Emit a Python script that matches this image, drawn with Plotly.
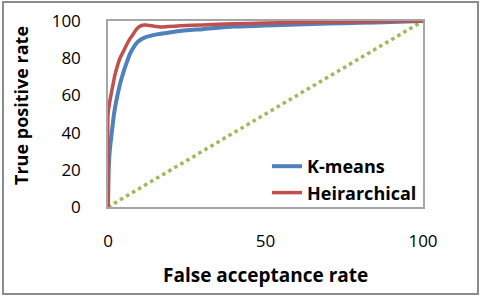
import plotly.graph_objects as go

# Data
km_x = [0, 0.3, 0.6, 1.2, 2, 3, 3.8, 5, 6, 7, 8, 9, 10.2, 12, 15.5, 20, 25, 30, 40, 50, 60, 70, 80, 90, 100]
km_y = [0, 24, 31, 40, 51, 60, 66, 73, 78, 82.5, 85.5, 88, 89.8, 91.3, 92.8, 94, 95, 95.6, 97.0, 97.6, 98.1, 98.6, 99.0, 99.5, 100]

hc_x = [0, 0, 0.3, 0.7, 1.5, 2.2, 3.0, 3.8, 5.0, 6.0, 7.0, 8.0, 9.0, 10, 11, 12, 14, 16.5, 19, 23, 30, 40, 50, 60, 70, 80, 90, 100]
hc_y = [0, 50, 54, 58, 65, 71, 76, 80, 84, 87.5, 90.5, 93, 95.5, 97, 97.7, 97.8, 97.4, 96.8, 97.0, 97.4, 97.9, 98.5, 98.9, 99.2, 99.4, 99.6, 99.8, 100]

diag_x = [0, 100]
diag_y = [0, 100]

x_ticks = [0, 50, 100]
y_ticks = [0, 20, 40, 60, 80, 100]

FONT = "Open Sans"

fig = go.Figure()
fig.add_trace(go.Scatter(x=diag_x, y=diag_y, mode="lines", showlegend=False,
                         line=dict(color="#9BBB59", width=3.5, dash="dot")))
fig.add_trace(go.Scatter(x=km_x, y=km_y, mode="lines", name="K-means",
                         line=dict(color="#4F81BD", width=4, shape="spline", smoothing=0.6)))
fig.add_trace(go.Scatter(x=hc_x, y=hc_y, mode="lines", name="Heirarchical",
                         line=dict(color="#C0504D", width=3.5, shape="spline", smoothing=0.6)))

L, R, T, B = 108, 58, 21, 90
W, H = 481, 297
pw, ph = W - L - R, H - T - B

def px2paper(px, py):
    return (px - L) / pw, (H - B - py) / ph

x0, y1 = px2paper(3, 2)
x1, y0 = px2paper(478, 294)

fig.update_layout(
    width=W, height=H,
    margin=dict(l=L, r=R, t=T, b=B, autoexpand=False),
    paper_bgcolor="white", plot_bgcolor="white",
    font=dict(family=FONT, color="#000000"),
    xaxis=dict(range=[0, 100], tickvals=x_ticks, showgrid=False, zeroline=False,
               showline=True, linecolor="#A6A6A6", linewidth=1.5, mirror=True, automargin=False,
               ticks="", ticklabelstandoff=18, tickfont=dict(size=17, family=FONT)),
    yaxis=dict(range=[0, 100], tickvals=y_ticks, showgrid=False, zeroline=False,
               showline=True, linecolor="#A6A6A6", linewidth=1.5, mirror=True, automargin=False,
               ticks="", ticklabelstandoff=22, tickfont=dict(size=17, family=FONT)),
    legend=dict(x=px2paper(267, 0)[0], y=px2paper(0, 148)[1], xanchor="left", yanchor="top",
                bgcolor="rgba(0,0,0,0)", borderwidth=0,
                font=dict(size=18, family=FONT, color="#000000", weight="bold")),
    shapes=[dict(type="rect", xref="paper", yref="paper", x0=x0, x1=x1, y0=y0, y1=y1,
                 line=dict(color="#8C8C8C", width=2), layer="below")],
    annotations=[
        dict(text="<b>False acceptance rate</b>", xref="paper", yref="paper",
             x=px2paper(265, 0)[0], y=px2paper(0, 275)[1], showarrow=False,
             xanchor="center", yanchor="middle", font=dict(size=19, family=FONT)),
        dict(text="<b>True positive rate</b>", xref="paper", yref="paper",
             x=px2paper(21, 0)[0], y=px2paper(0, 106)[1], showarrow=False, textangle=-90,
             xanchor="center", yanchor="middle", font=dict(size=18, family=FONT)),
    ],
)

fig.write_html("out.html", config={"displayModeBar": False},
               post_script="document.body.style.margin='0';")
